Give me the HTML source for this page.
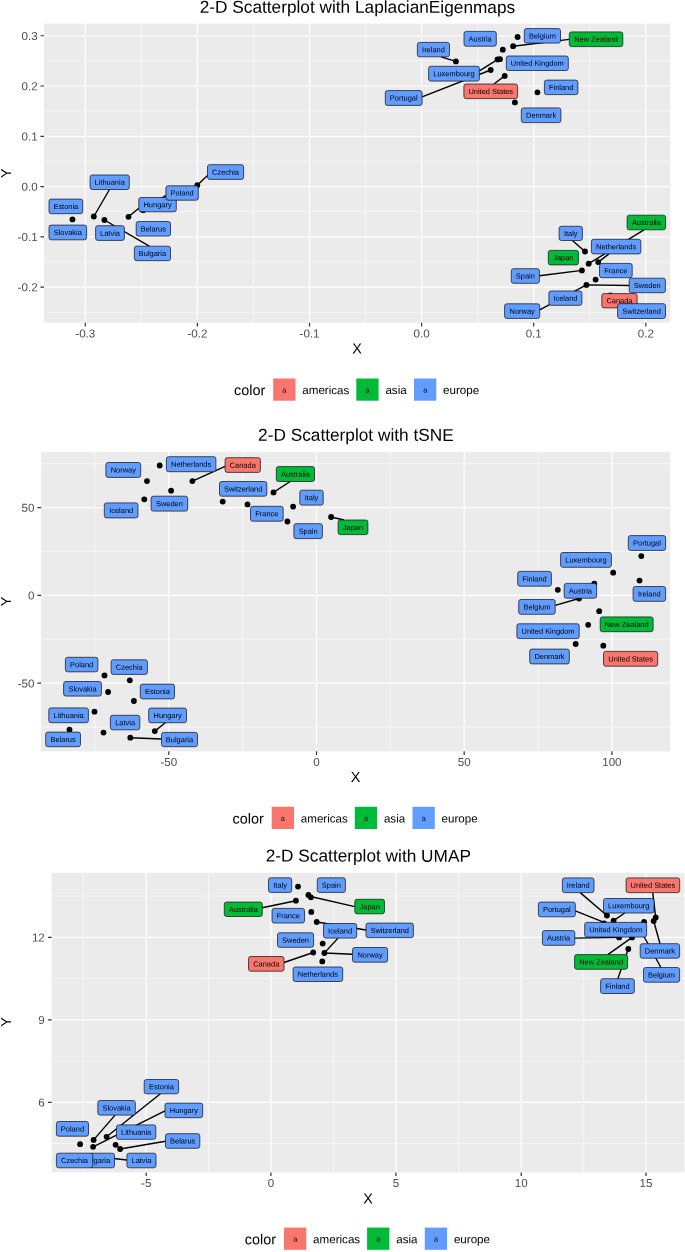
<!DOCTYPE html>
<html><head><meta charset="utf-8"><title>2-D Scatterplots</title>
<style>
html,body{margin:0;padding:0;background:#fff}
svg{display:block;font-family:"Liberation Sans",Arial,sans-serif;text-rendering:geometricPrecision}
.tk text{font-size:11.6px;fill:#4D4D4D}
.ti{font-size:17.25px;fill:#000}
.ax{font-size:14.4px;fill:#000}
.lg{font-size:11.6px;fill:#000}
.ka{font-size:7.3px;fill:#000}
.lb rect{stroke:#1a1a1a;stroke-width:0.75}
.lb text{font-size:7.45px;fill:#000;text-anchor:middle}
</style></head><body>
<svg width="685" height="1252" viewBox="0 0 685 1252">
<rect width="685" height="1252" fill="#fff"/>
<rect x="44.05" y="23.6" width="626.15" height="299.2" fill="#EBEBEB"/>
<path d="M44.05 60.9H670.2M44.05 111.15H670.2M44.05 161.4H670.2M44.05 211.7H670.2M44.05 262H670.2M44.05 312.3H670.2M141.4 23.6V322.8M253.5 23.6V322.8M365.6 23.6V322.8M477.7 23.6V322.8M589.8 23.6V322.8" stroke="#fff" stroke-width="0.6" fill="none"/>
<path d="M44.05 35.75H670.2M44.05 86H670.2M44.05 136.3H670.2M44.05 186.55H670.2M44.05 236.85H670.2M44.05 287.1H670.2M85.3 23.6V322.8M197.4 23.6V322.8M309.5 23.6V322.8M421.6 23.6V322.8M533.7 23.6V322.8M645.8 23.6V322.8" stroke="#fff" stroke-width="1.2" fill="none"/>
<path d="M40.45 35.75H44.05M40.45 86H44.05M40.45 136.3H44.05M40.45 186.55H44.05M40.45 236.85H44.05M40.45 287.1H44.05M85.3 322.8V326.4M197.4 322.8V326.4M309.5 322.8V326.4M421.6 322.8V326.4M533.7 322.8V326.4M645.8 322.8V326.4" stroke="#333" stroke-width="1.2" fill="none"/>
<g class="tk">
<text text-anchor="end" transform="translate(37.6 39.95) matrix(1 0.001 0 1 0 0)">0.3</text>
<text text-anchor="end" transform="translate(37.6 90.2) matrix(1 0.001 0 1 0 0)">0.2</text>
<text text-anchor="end" transform="translate(37.6 140.5) matrix(1 0.001 0 1 0 0)">0.1</text>
<text text-anchor="end" transform="translate(37.6 190.75) matrix(1 0.001 0 1 0 0)">0.0</text>
<text text-anchor="end" transform="translate(37.6 241.05) matrix(1 0.001 0 1 0 0)">-0.1</text>
<text text-anchor="end" transform="translate(37.6 291.3) matrix(1 0.001 0 1 0 0)">-0.2</text>
<text text-anchor="middle" transform="translate(85.3 337.6) matrix(1 0.001 0 1 0 0)">-0.3</text>
<text text-anchor="middle" transform="translate(197.4 337.6) matrix(1 0.001 0 1 0 0)">-0.2</text>
<text text-anchor="middle" transform="translate(309.5 337.6) matrix(1 0.001 0 1 0 0)">-0.1</text>
<text text-anchor="middle" transform="translate(421.6 337.6) matrix(1 0.001 0 1 0 0)">0.0</text>
<text text-anchor="middle" transform="translate(533.7 337.6) matrix(1 0.001 0 1 0 0)">0.1</text>
<text text-anchor="middle" transform="translate(645.8 337.6) matrix(1 0.001 0 1 0 0)">0.2</text>
</g>
<text class="ti" text-anchor="middle" transform="translate(357.43 12.8) matrix(1 0.001 0 1 0 0)">2-D Scatterplot with LaplacianEigenmaps</text>
<text class="ax" text-anchor="middle" transform="translate(357 353.6) matrix(1 0.001 0 1 0 0)">X</text>
<text class="ax" text-anchor="middle" transform="translate(10.9 173.2) rotate(-90) matrix(1 0.001 0 1 0 0)">Y</text>
<g fill="#000">
<circle cx="517.6" cy="37" r="2.9"/>
<circle cx="513.1" cy="46.2" r="2.9"/>
<circle cx="502.8" cy="49.7" r="2.9"/>
<circle cx="497.5" cy="59.4" r="2.9"/>
<circle cx="500" cy="59.2" r="2.9"/>
<circle cx="455.9" cy="61.4" r="2.9"/>
<circle cx="490.7" cy="70" r="2.9"/>
<circle cx="504.7" cy="75.9" r="2.9"/>
<circle cx="537.4" cy="92.3" r="2.9"/>
<circle cx="514.9" cy="102.4" r="2.9"/>
<circle cx="197.3" cy="185.2" r="2.9"/>
<circle cx="143.1" cy="210.2" r="2.9"/>
<circle cx="128.5" cy="216.8" r="2.9"/>
<circle cx="93.8" cy="216.5" r="2.9"/>
<circle cx="104.4" cy="220" r="2.9"/>
<circle cx="72.5" cy="219.4" r="2.9"/>
<circle cx="585" cy="251.5" r="2.9"/>
<circle cx="588.7" cy="263.7" r="2.9"/>
<circle cx="598.2" cy="262.1" r="2.9"/>
<circle cx="581.9" cy="270.4" r="2.9"/>
<circle cx="595.6" cy="279.6" r="2.9"/>
<circle cx="586.4" cy="284.9" r="2.9"/>
<circle cx="610.5" cy="295.3" r="2.9"/>
</g>
<path d="M441.1 56.8L455.9 61.4M479.4 70.9L497.8 59.3M422.1 96.9L490.7 70M493.9 84L504.7 75.9M569.3 39.4L513.1 46.2M109.5 189.5L93.8 216.5M138.8 208.3L128.5 216.8M149.3 246.2L104.4 220M165.9 195.4L143.1 210.9M207.5 175.5L197.3 185.2M572.4 240.5L585 251.5M644 229.8L588.7 263.7M609 253.9L598.2 262.1M539.4 275.8L581.9 270.4M629.2 285.5L586.4 284.9M539.7 309.8L586.4 284.9" stroke="#000" stroke-width="1.4" fill="none"/>
<g class="lb">
<rect x="627.1" y="215.2" width="38.5" height="14.6" rx="2.2" fill="#00BA38"/><text transform="translate(646.35 225.1) matrix(1 0.001 0 1 0 0)">Australia</text>
<rect x="464" y="31.4" width="32.3" height="14.8" rx="2.2" fill="#619CFF"/><text transform="translate(480.15 41.4) matrix(1 0.001 0 1 0 0)">Austria</text>
<rect x="136.2" y="221.5" width="34.3" height="14.6" rx="2.2" fill="#619CFF"/><text transform="translate(153.35 231.4) matrix(1 0.001 0 1 0 0)">Belarus</text>
<rect x="524.3" y="28.6" width="36.2" height="14.5" rx="2.2" fill="#619CFF"/><text transform="translate(542.4 38.45) matrix(1 0.001 0 1 0 0)">Belgium</text>
<rect x="134.4" y="246.2" width="36.1" height="14.5" rx="2.2" fill="#619CFF"/><text transform="translate(152.45 256.05) matrix(1 0.001 0 1 0 0)">Bulgaria</text>
<rect x="601.8" y="293.6" width="35.3" height="14.3" rx="2.2" fill="#F8766D"/><text transform="translate(619.45 303.35) matrix(1 0.001 0 1 0 0)">Canada</text>
<rect x="207.5" y="164.7" width="36.1" height="14.7" rx="2.2" fill="#619CFF"/><text transform="translate(225.55 174.65) matrix(1 0.001 0 1 0 0)">Czechia</text>
<rect x="521.3" y="107.9" width="39.6" height="14.7" rx="2.2" fill="#619CFF"/><text transform="translate(541.1 117.85) matrix(1 0.001 0 1 0 0)">Denmark</text>
<rect x="49" y="199.1" width="33.7" height="14.6" rx="2.2" fill="#619CFF"/><text transform="translate(65.85 209) matrix(1 0.001 0 1 0 0)">Estonia</text>
<rect x="544.4" y="80.1" width="33.5" height="14.5" rx="2.2" fill="#619CFF"/><text transform="translate(561.15 89.95) matrix(1 0.001 0 1 0 0)">Finland</text>
<rect x="599.5" y="263.4" width="32.7" height="14.3" rx="2.2" fill="#619CFF"/><text transform="translate(615.85 273.15) matrix(1 0.001 0 1 0 0)">France</text>
<rect x="138.8" y="197.5" width="37.5" height="14.3" rx="2.2" fill="#619CFF"/><text transform="translate(157.55 207.25) matrix(1 0.001 0 1 0 0)">Hungary</text>
<rect x="548.9" y="291" width="33" height="14.3" rx="2.2" fill="#619CFF"/><text transform="translate(565.4 300.75) matrix(1 0.001 0 1 0 0)">Iceland</text>
<rect x="417.4" y="42.4" width="32.1" height="14.4" rx="2.2" fill="#619CFF"/><text transform="translate(433.45 52.2) matrix(1 0.001 0 1 0 0)">Ireland</text>
<rect x="559.1" y="226.3" width="23.3" height="14.2" rx="2.2" fill="#619CFF"/><text transform="translate(570.75 236) matrix(1 0.001 0 1 0 0)">Italy</text>
<rect x="548.3" y="250.4" width="30.1" height="14.5" rx="2.2" fill="#00BA38"/><text transform="translate(563.35 260.25) matrix(1 0.001 0 1 0 0)">Japan</text>
<rect x="95.6" y="225.7" width="28.8" height="14.7" rx="2.2" fill="#619CFF"/><text transform="translate(110 235.65) matrix(1 0.001 0 1 0 0)">Latvia</text>
<rect x="90.1" y="175" width="39.2" height="14.5" rx="2.2" fill="#619CFF"/><text transform="translate(109.7 184.85) matrix(1 0.001 0 1 0 0)">Lithuania</text>
<rect x="428.6" y="66.3" width="50.8" height="14.8" rx="2.2" fill="#619CFF"/><text transform="translate(454 76.3) matrix(1 0.001 0 1 0 0)">Luxembourg</text>
<rect x="591.4" y="239.3" width="49.4" height="14.6" rx="2.2" fill="#619CFF"/><text transform="translate(616.1 249.2) matrix(1 0.001 0 1 0 0)">Netherlands</text>
<rect x="569.3" y="31.9" width="53.5" height="14.7" rx="2.2" fill="#00BA38"/><text transform="translate(596.05 41.85) matrix(1 0.001 0 1 0 0)">New Zealand</text>
<rect x="504.6" y="303.8" width="35.1" height="14.6" rx="2.2" fill="#619CFF"/><text transform="translate(522.15 313.7) matrix(1 0.001 0 1 0 0)">Norway</text>
<rect x="165.9" y="185.8" width="32.4" height="14.4" rx="2.2" fill="#619CFF"/><text transform="translate(182.1 195.6) matrix(1 0.001 0 1 0 0)">Poland</text>
<rect x="385.3" y="90.6" width="36.8" height="14.8" rx="2.2" fill="#619CFF"/><text transform="translate(403.7 100.6) matrix(1 0.001 0 1 0 0)">Portugal</text>
<rect x="49" y="225.1" width="37.6" height="14.7" rx="2.2" fill="#619CFF"/><text transform="translate(67.8 235.05) matrix(1 0.001 0 1 0 0)">Slovakia</text>
<rect x="511.3" y="268.7" width="28.1" height="14.6" rx="2.2" fill="#619CFF"/><text transform="translate(525.35 278.6) matrix(1 0.001 0 1 0 0)">Spain</text>
<rect x="629.2" y="278.2" width="36.2" height="14.5" rx="2.2" fill="#619CFF"/><text transform="translate(647.3 288.05) matrix(1 0.001 0 1 0 0)">Sweden</text>
<rect x="617.6" y="303.7" width="47.9" height="14.8" rx="2.2" fill="#619CFF"/><text transform="translate(641.55 313.7) matrix(1 0.001 0 1 0 0)">Switzerland</text>
<rect x="506.3" y="56" width="62" height="14.5" rx="2.2" fill="#619CFF"/><text transform="translate(537.3 65.85) matrix(1 0.001 0 1 0 0)">United Kingdom</text>
<rect x="463.9" y="84" width="53.7" height="14.6" rx="2.2" fill="#F8766D"/><text transform="translate(490.75 93.9) matrix(1 0.001 0 1 0 0)">United States</text>
</g>
<text class="ax" transform="translate(234 395.1) matrix(1 0.001 0 1 0 0)">color</text>
<rect x="273.2" y="378.5" width="22.3" height="22.2" fill="#F8766D"/>
<text class="ka" text-anchor="middle" transform="translate(284.4 392.5) matrix(1 0.001 0 1 0 0)">a</text>
<text class="lg" transform="translate(302.3 394.1) matrix(1 0.001 0 1 0 0)">americas</text>
<rect x="356.3" y="378.5" width="22.3" height="22.2" fill="#00BA38"/>
<text class="ka" text-anchor="middle" transform="translate(367.5 392.5) matrix(1 0.001 0 1 0 0)">a</text>
<text class="lg" transform="translate(385.4 394.1) matrix(1 0.001 0 1 0 0)">asia</text>
<rect x="414" y="378.5" width="22.3" height="22.2" fill="#619CFF"/>
<text class="ka" text-anchor="middle" transform="translate(425.2 392.5) matrix(1 0.001 0 1 0 0)">a</text>
<text class="lg" transform="translate(443.1 394.1) matrix(1 0.001 0 1 0 0)">europe</text>
<rect x="41" y="452.1" width="629.2" height="299.2" fill="#EBEBEB"/>
<path d="M41 463.7H670.2M41 551.5H670.2M41 639.3H670.2M41 727.1H670.2M94.9 452.1V751.3M242.6 452.1V751.3M390.3 452.1V751.3M538 452.1V751.3" stroke="#fff" stroke-width="0.6" fill="none"/>
<path d="M41 507.6H670.2M41 595.4H670.2M41 683.2H670.2M168.8 452.1V751.3M316.5 452.1V751.3M464.2 452.1V751.3M611.9 452.1V751.3" stroke="#fff" stroke-width="1.2" fill="none"/>
<path d="M37.4 507.6H41M37.4 595.4H41M37.4 683.2H41M168.8 751.3V754.9M316.5 751.3V754.9M464.2 751.3V754.9M611.9 751.3V754.9" stroke="#333" stroke-width="1.2" fill="none"/>
<g class="tk">
<text text-anchor="end" transform="translate(34.4 511.8) matrix(1 0.001 0 1 0 0)">50</text>
<text text-anchor="end" transform="translate(34.4 599.6) matrix(1 0.001 0 1 0 0)">0</text>
<text text-anchor="end" transform="translate(34.4 687.4) matrix(1 0.001 0 1 0 0)">-50</text>
<text text-anchor="middle" transform="translate(168.8 766) matrix(1 0.001 0 1 0 0)">-50</text>
<text text-anchor="middle" transform="translate(316.5 766) matrix(1 0.001 0 1 0 0)">0</text>
<text text-anchor="middle" transform="translate(464.2 766) matrix(1 0.001 0 1 0 0)">50</text>
<text text-anchor="middle" transform="translate(611.9 766) matrix(1 0.001 0 1 0 0)">100</text>
</g>
<text class="ti" text-anchor="middle" transform="translate(355.9 440.8) matrix(1 0.001 0 1 0 0)">2-D Scatterplot with tSNE</text>
<text class="ax" text-anchor="middle" transform="translate(355.6 781.9) matrix(1 0.001 0 1 0 0)">X</text>
<text class="ax" text-anchor="middle" transform="translate(10.9 601.5) rotate(-90) matrix(1 0.001 0 1 0 0)">Y</text>
<g fill="#000">
<circle cx="159.7" cy="465.5" r="2.9"/>
<circle cx="147" cy="481.1" r="2.9"/>
<circle cx="192.4" cy="481.1" r="2.9"/>
<circle cx="171.1" cy="490.7" r="2.9"/>
<circle cx="144.3" cy="499.3" r="2.9"/>
<circle cx="222.7" cy="501.6" r="2.9"/>
<circle cx="247.5" cy="504.4" r="2.9"/>
<circle cx="273.5" cy="492.4" r="2.9"/>
<circle cx="293.1" cy="506.6" r="2.9"/>
<circle cx="287.4" cy="521.5" r="2.9"/>
<circle cx="331.1" cy="517" r="2.9"/>
<circle cx="641.3" cy="556.1" r="2.9"/>
<circle cx="613.2" cy="572.7" r="2.9"/>
<circle cx="639.5" cy="580.6" r="2.9"/>
<circle cx="594.3" cy="583.7" r="2.9"/>
<circle cx="557.8" cy="589.8" r="2.9"/>
<circle cx="579" cy="598.5" r="2.9"/>
<circle cx="599.2" cy="611.2" r="2.9"/>
<circle cx="588.2" cy="624.8" r="2.9"/>
<circle cx="575.7" cy="644" r="2.9"/>
<circle cx="603.3" cy="645.7" r="2.9"/>
<circle cx="104.5" cy="675.4" r="2.9"/>
<circle cx="129.8" cy="680.3" r="2.9"/>
<circle cx="108.1" cy="692" r="2.9"/>
<circle cx="133.9" cy="701" r="2.9"/>
<circle cx="94.5" cy="711.7" r="2.9"/>
<circle cx="69.5" cy="729.6" r="2.9"/>
<circle cx="103.5" cy="732.6" r="2.9"/>
<circle cx="154.8" cy="731.1" r="2.9"/>
<circle cx="130.3" cy="737.7" r="2.9"/>
</g>
<path d="M225.1 466.3L192.4 481.1M290.2 481.5L273.5 492.4M344 520L331.1 517M555.2 605.4L579 598.5M165.3 722.7L154.8 731.1M161.5 739L130.3 737.7" stroke="#000" stroke-width="1.4" fill="none"/>
<g class="lb">
<rect x="276.3" y="466.6" width="38.2" height="14.9" rx="2.2" fill="#00BA38"/><text transform="translate(295.4 476.65) matrix(1 0.001 0 1 0 0)">Australia</text>
<rect x="564.2" y="583.4" width="32.4" height="14.8" rx="2.2" fill="#619CFF"/><text transform="translate(580.4 593.4) matrix(1 0.001 0 1 0 0)">Austria</text>
<rect x="45.7" y="732.1" width="34.8" height="14.6" rx="2.2" fill="#619CFF"/><text transform="translate(63.1 742) matrix(1 0.001 0 1 0 0)">Belarus</text>
<rect x="518.7" y="599.5" width="36.5" height="14.8" rx="2.2" fill="#619CFF"/><text transform="translate(536.95 609.5) matrix(1 0.001 0 1 0 0)">Belgium</text>
<rect x="161.5" y="732.4" width="36" height="14.3" rx="2.2" fill="#619CFF"/><text transform="translate(179.5 742.15) matrix(1 0.001 0 1 0 0)">Bulgaria</text>
<rect x="225.1" y="457.7" width="35.3" height="14.7" rx="2.2" fill="#F8766D"/><text transform="translate(242.75 467.65) matrix(1 0.001 0 1 0 0)">Canada</text>
<rect x="111.1" y="659.8" width="36.3" height="14.6" rx="2.2" fill="#619CFF"/><text transform="translate(129.25 669.7) matrix(1 0.001 0 1 0 0)">Czechia</text>
<rect x="529.7" y="649.1" width="39.6" height="14.8" rx="2.2" fill="#619CFF"/><text transform="translate(549.5 659.1) matrix(1 0.001 0 1 0 0)">Denmark</text>
<rect x="140.3" y="684.1" width="34.2" height="14.8" rx="2.2" fill="#619CFF"/><text transform="translate(157.4 694.1) matrix(1 0.001 0 1 0 0)">Estonia</text>
<rect x="517.7" y="571.4" width="33.7" height="14.8" rx="2.2" fill="#619CFF"/><text transform="translate(534.55 581.4) matrix(1 0.001 0 1 0 0)">Finland</text>
<rect x="250.5" y="506.3" width="32.7" height="14.9" rx="2.2" fill="#619CFF"/><text transform="translate(266.85 516.35) matrix(1 0.001 0 1 0 0)">France</text>
<rect x="148.7" y="708.1" width="37.8" height="14.6" rx="2.2" fill="#619CFF"/><text transform="translate(167.6 718) matrix(1 0.001 0 1 0 0)">Hungary</text>
<rect x="104.3" y="502.9" width="33.7" height="15" rx="2.2" fill="#619CFF"/><text transform="translate(121.15 513) matrix(1 0.001 0 1 0 0)">Iceland</text>
<rect x="633.1" y="586.5" width="32.5" height="14.8" rx="2.2" fill="#619CFF"/><text transform="translate(649.35 596.5) matrix(1 0.001 0 1 0 0)">Ireland</text>
<rect x="299.8" y="490.2" width="23.4" height="14.9" rx="2.2" fill="#619CFF"/><text transform="translate(311.5 500.25) matrix(1 0.001 0 1 0 0)">Italy</text>
<rect x="338.1" y="520" width="29.8" height="14.6" rx="2.2" fill="#00BA38"/><text transform="translate(353 529.9) matrix(1 0.001 0 1 0 0)">Japan</text>
<rect x="110.4" y="715.3" width="29.4" height="14.5" rx="2.2" fill="#619CFF"/><text transform="translate(125.1 725.15) matrix(1 0.001 0 1 0 0)">Latvia</text>
<rect x="48.8" y="707.9" width="39.6" height="14.8" rx="2.2" fill="#619CFF"/><text transform="translate(68.6 717.9) matrix(1 0.001 0 1 0 0)">Lithuania</text>
<rect x="560.6" y="552.5" width="50.8" height="14.8" rx="2.2" fill="#619CFF"/><text transform="translate(586 562.5) matrix(1 0.001 0 1 0 0)">Luxembourg</text>
<rect x="166.4" y="456.7" width="49.5" height="15" rx="2.2" fill="#619CFF"/><text transform="translate(191.15 466.8) matrix(1 0.001 0 1 0 0)">Netherlands</text>
<rect x="600.2" y="616.9" width="52.9" height="14.8" rx="2.2" fill="#00BA38"/><text transform="translate(626.65 626.9) matrix(1 0.001 0 1 0 0)">New Zealand</text>
<rect x="105.9" y="462.5" width="34.8" height="14.9" rx="2.2" fill="#619CFF"/><text transform="translate(123.3 472.55) matrix(1 0.001 0 1 0 0)">Norway</text>
<rect x="65.4" y="657.3" width="32.5" height="14.5" rx="2.2" fill="#619CFF"/><text transform="translate(81.65 667.15) matrix(1 0.001 0 1 0 0)">Poland</text>
<rect x="628.3" y="535.6" width="37.3" height="14.8" rx="2.2" fill="#619CFF"/><text transform="translate(646.95 545.6) matrix(1 0.001 0 1 0 0)">Portugal</text>
<rect x="63.6" y="681.5" width="37.8" height="14.6" rx="2.2" fill="#619CFF"/><text transform="translate(82.5 691.4) matrix(1 0.001 0 1 0 0)">Slovakia</text>
<rect x="293.9" y="523.7" width="28.5" height="14.9" rx="2.2" fill="#619CFF"/><text transform="translate(308.15 533.75) matrix(1 0.001 0 1 0 0)">Spain</text>
<rect x="151.1" y="496.2" width="36.6" height="14.9" rx="2.2" fill="#619CFF"/><text transform="translate(169.4 506.25) matrix(1 0.001 0 1 0 0)">Sweden</text>
<rect x="219.5" y="481.5" width="47.3" height="14.7" rx="2.2" fill="#619CFF"/><text transform="translate(243.15 491.45) matrix(1 0.001 0 1 0 0)">Switzerland</text>
<rect x="516.9" y="623.8" width="62.3" height="14.8" rx="2.2" fill="#619CFF"/><text transform="translate(548.05 633.8) matrix(1 0.001 0 1 0 0)">United Kingdom</text>
<rect x="603.5" y="651.4" width="54.2" height="14.8" rx="2.2" fill="#F8766D"/><text transform="translate(630.6 661.4) matrix(1 0.001 0 1 0 0)">United States</text>
</g>
<text class="ax" transform="translate(232.5 823.4) matrix(1 0.001 0 1 0 0)">color</text>
<rect x="271.7" y="806.8" width="22.3" height="22.2" fill="#F8766D"/>
<text class="ka" text-anchor="middle" transform="translate(282.9 820.8) matrix(1 0.001 0 1 0 0)">a</text>
<text class="lg" transform="translate(300.8 822.4) matrix(1 0.001 0 1 0 0)">americas</text>
<rect x="354.8" y="806.8" width="22.3" height="22.2" fill="#00BA38"/>
<text class="ka" text-anchor="middle" transform="translate(366 820.8) matrix(1 0.001 0 1 0 0)">a</text>
<text class="lg" transform="translate(383.9 822.4) matrix(1 0.001 0 1 0 0)">asia</text>
<rect x="412.5" y="806.8" width="22.3" height="22.2" fill="#619CFF"/>
<text class="ka" text-anchor="middle" transform="translate(423.7 820.8) matrix(1 0.001 0 1 0 0)">a</text>
<text class="lg" transform="translate(441.6 822.4) matrix(1 0.001 0 1 0 0)">europe</text>
<rect x="51.7" y="872.9" width="632.7" height="299.5" fill="#EBEBEB"/>
<path d="M51.7 896.05H684.4M51.7 978.55H684.4M51.7 1061.05H684.4M51.7 1143.55H684.4M83.3 872.9V1172.4M208.4 872.9V1172.4M333.5 872.9V1172.4M458.6 872.9V1172.4M583.7 872.9V1172.4" stroke="#fff" stroke-width="0.6" fill="none"/>
<path d="M51.7 937.3H684.4M51.7 1019.8H684.4M51.7 1102.3H684.4M146.2 872.9V1172.4M270.9 872.9V1172.4M395.9 872.9V1172.4M521.2 872.9V1172.4M646 872.9V1172.4" stroke="#fff" stroke-width="1.2" fill="none"/>
<path d="M48.1 937.3H51.7M48.1 1019.8H51.7M48.1 1102.3H51.7M146.2 1172.4V1176M270.9 1172.4V1176M395.9 1172.4V1176M521.2 1172.4V1176M646 1172.4V1176" stroke="#333" stroke-width="1.2" fill="none"/>
<g class="tk">
<text text-anchor="end" transform="translate(44.8 941.5) matrix(1 0.001 0 1 0 0)">12</text>
<text text-anchor="end" transform="translate(44.8 1024) matrix(1 0.001 0 1 0 0)">9</text>
<text text-anchor="end" transform="translate(44.8 1106.5) matrix(1 0.001 0 1 0 0)">6</text>
<text text-anchor="middle" transform="translate(146.2 1187.1) matrix(1 0.001 0 1 0 0)">-5</text>
<text text-anchor="middle" transform="translate(270.9 1187.1) matrix(1 0.001 0 1 0 0)">0</text>
<text text-anchor="middle" transform="translate(395.9 1187.1) matrix(1 0.001 0 1 0 0)">5</text>
<text text-anchor="middle" transform="translate(521.2 1187.1) matrix(1 0.001 0 1 0 0)">10</text>
<text text-anchor="middle" transform="translate(646 1187.1) matrix(1 0.001 0 1 0 0)">15</text>
</g>
<text class="ti" text-anchor="middle" transform="translate(368.35 861.6) matrix(1 0.001 0 1 0 0)">2-D Scatterplot with UMAP</text>
<text class="ax" text-anchor="middle" transform="translate(368 1203.5) matrix(1 0.001 0 1 0 0)">X</text>
<text class="ax" text-anchor="middle" transform="translate(10.9 1022) rotate(-90) matrix(1 0.001 0 1 0 0)">Y</text>
<g fill="#000">
<circle cx="298" cy="886.6" r="2.9"/>
<circle cx="308.4" cy="894.9" r="2.9"/>
<circle cx="310.9" cy="897.3" r="2.9"/>
<circle cx="295.9" cy="900.7" r="2.9"/>
<circle cx="311.3" cy="911.9" r="2.9"/>
<circle cx="316.7" cy="922" r="2.9"/>
<circle cx="322.7" cy="943.6" r="2.9"/>
<circle cx="313.2" cy="952.5" r="2.9"/>
<circle cx="324.4" cy="953" r="2.9"/>
<circle cx="322.3" cy="961.4" r="2.9"/>
<circle cx="606.9" cy="915.5" r="2.9"/>
<circle cx="613.6" cy="920.7" r="2.9"/>
<circle cx="604.1" cy="923.3" r="2.9"/>
<circle cx="644.1" cy="922" r="2.9"/>
<circle cx="655.7" cy="917.4" r="2.9"/>
<circle cx="653.7" cy="921" r="2.9"/>
<circle cx="619.1" cy="937.4" r="2.9"/>
<circle cx="632.1" cy="937.4" r="2.9"/>
<circle cx="628.3" cy="949" r="2.9"/>
<circle cx="80.1" cy="1144.2" r="2.9"/>
<circle cx="93.6" cy="1139.9" r="2.9"/>
<circle cx="93.1" cy="1146.8" r="2.9"/>
<circle cx="106.6" cy="1136.8" r="2.9"/>
<circle cx="115.6" cy="1144.8" r="2.9"/>
<circle cx="120.1" cy="1149" r="2.9"/>
</g>
<path d="M262.3 907.8L295.9 900.7M354.8 906.6L310.5 896.5M366 930L316.7 922M338 938.1L324.4 953M352.5 954.2L324.4 953M284 962.5L313.2 952.5M580.2 892.6L606.9 915.5M652.7 892.6L655.7 917.4M624.8 913L613.6 920.7M575.3 910.9L604.1 922.4M574.8 938.1L619.1 937.4M607.8 954.6L632.1 937.4M617.8 978.7L628.3 949M660 943.7L653.7 921M660.9 967.5L641 931M115.1 1115.1L93.6 1139.9M160.4 1093.8L106.6 1136.8M165 1110.9L93.1 1146.8M165.5 1141.3L120.1 1149M126.9 1160L105 1157.5" stroke="#000" stroke-width="1.4" fill="none"/>
<g class="lb">
<rect x="224.3" y="902.1" width="38" height="14.4" rx="2.2" fill="#00BA38"/><text transform="translate(243.3 911.9) matrix(1 0.001 0 1 0 0)">Australia</text>
<rect x="542.4" y="930.6" width="32.4" height="14.7" rx="2.2" fill="#619CFF"/><text transform="translate(558.6 940.55) matrix(1 0.001 0 1 0 0)">Austria</text>
<rect x="165.5" y="1133.7" width="34.3" height="14.6" rx="2.2" fill="#619CFF"/><text transform="translate(182.65 1143.6) matrix(1 0.001 0 1 0 0)">Belarus</text>
<rect x="643.5" y="967.5" width="36.1" height="14.7" rx="2.2" fill="#619CFF"/><text transform="translate(661.55 977.45) matrix(1 0.001 0 1 0 0)">Belgium</text>
<rect x="89" y="1153.2" width="25.5" height="14.6" rx="2.2" fill="#619CFF"/><text transform="translate(96.5 1163.1) matrix(1 0.001 0 1 0 0)">Bulgaria</text>
<rect x="248.5" y="956.5" width="35.5" height="14.7" rx="2.2" fill="#F8766D"/><text transform="translate(266.25 966.45) matrix(1 0.001 0 1 0 0)">Canada</text>
<rect x="56.4" y="1153.2" width="36.3" height="14.6" rx="2.2" fill="#619CFF"/><text transform="translate(74.55 1163.1) matrix(1 0.001 0 1 0 0)">Czechia</text>
<rect x="640.2" y="943.7" width="39.4" height="14.5" rx="2.2" fill="#619CFF"/><text transform="translate(659.9 953.55) matrix(1 0.001 0 1 0 0)">Denmark</text>
<rect x="144.2" y="1079.5" width="34.4" height="14.3" rx="2.2" fill="#619CFF"/><text transform="translate(161.4 1089.25) matrix(1 0.001 0 1 0 0)">Estonia</text>
<rect x="600.6" y="978.7" width="33.7" height="14.8" rx="2.2" fill="#619CFF"/><text transform="translate(617.45 988.7) matrix(1 0.001 0 1 0 0)">Finland</text>
<rect x="272" y="908.4" width="32.5" height="14.6" rx="2.2" fill="#619CFF"/><text transform="translate(288.25 918.3) matrix(1 0.001 0 1 0 0)">France</text>
<rect x="165" y="1103.1" width="37.7" height="14.6" rx="2.2" fill="#619CFF"/><text transform="translate(183.85 1113) matrix(1 0.001 0 1 0 0)">Hungary</text>
<rect x="323.5" y="923.5" width="33.2" height="14.6" rx="2.2" fill="#619CFF"/><text transform="translate(340.1 933.4) matrix(1 0.001 0 1 0 0)">Iceland</text>
<rect x="562.4" y="877.9" width="31.6" height="14.7" rx="2.2" fill="#619CFF"/><text transform="translate(578.2 887.85) matrix(1 0.001 0 1 0 0)">Ireland</text>
<rect x="268.5" y="877.8" width="23.2" height="14.6" rx="2.2" fill="#619CFF"/><text transform="translate(280.1 887.7) matrix(1 0.001 0 1 0 0)">Italy</text>
<rect x="354.8" y="899.3" width="29.7" height="14.5" rx="2.2" fill="#00BA38"/><text transform="translate(369.65 909.15) matrix(1 0.001 0 1 0 0)">Japan</text>
<rect x="126.9" y="1153.2" width="29.1" height="14.6" rx="2.2" fill="#619CFF"/><text transform="translate(141.45 1163.1) matrix(1 0.001 0 1 0 0)">Latvia</text>
<rect x="116.5" y="1124.9" width="39.3" height="14.4" rx="2.2" fill="#619CFF"/><text transform="translate(136.15 1134.7) matrix(1 0.001 0 1 0 0)">Lithuania</text>
<rect x="603.5" y="898.5" width="50.5" height="14.5" rx="2.2" fill="#619CFF"/><text transform="translate(628.75 908.35) matrix(1 0.001 0 1 0 0)">Luxembourg</text>
<rect x="293.1" y="967" width="49.6" height="14.5" rx="2.2" fill="#619CFF"/><text transform="translate(317.9 976.85) matrix(1 0.001 0 1 0 0)">Netherlands</text>
<rect x="574.6" y="954.6" width="53" height="14.7" rx="2.2" fill="#00BA38"/><text transform="translate(601.1 964.55) matrix(1 0.001 0 1 0 0)">New Zealand</text>
<rect x="352.5" y="947.5" width="35.1" height="14.7" rx="2.2" fill="#619CFF"/><text transform="translate(370.05 957.45) matrix(1 0.001 0 1 0 0)">Norway</text>
<rect x="56.4" y="1121.5" width="32.1" height="14.7" rx="2.2" fill="#619CFF"/><text transform="translate(72.45 1131.45) matrix(1 0.001 0 1 0 0)">Poland</text>
<rect x="538.4" y="902.1" width="36.9" height="14.7" rx="2.2" fill="#619CFF"/><text transform="translate(556.85 912.05) matrix(1 0.001 0 1 0 0)">Portugal</text>
<rect x="97.8" y="1100.5" width="37.5" height="14.6" rx="2.2" fill="#619CFF"/><text transform="translate(116.55 1110.4) matrix(1 0.001 0 1 0 0)">Slovakia</text>
<rect x="317.3" y="877.8" width="28.1" height="14.6" rx="2.2" fill="#619CFF"/><text transform="translate(331.35 887.7) matrix(1 0.001 0 1 0 0)">Spain</text>
<rect x="277.5" y="932.8" width="36.1" height="14.5" rx="2.2" fill="#619CFF"/><text transform="translate(295.55 942.65) matrix(1 0.001 0 1 0 0)">Sweden</text>
<rect x="366" y="923.1" width="47.4" height="14.5" rx="2.2" fill="#619CFF"/><text transform="translate(389.7 932.95) matrix(1 0.001 0 1 0 0)">Switzerland</text>
<rect x="584.7" y="922.4" width="61.9" height="14.7" rx="2.2" fill="#619CFF"/><text transform="translate(615.65 932.35) matrix(1 0.001 0 1 0 0)">United Kingdom</text>
<rect x="626.1" y="877.9" width="53.6" height="14.7" rx="2.2" fill="#F8766D"/><text transform="translate(652.9 887.85) matrix(1 0.001 0 1 0 0)">United States</text>
</g>
<text class="ax" transform="translate(244.8 1244.2) matrix(1 0.001 0 1 0 0)">color</text>
<rect x="284" y="1227.6" width="22.3" height="22.2" fill="#F8766D"/>
<text class="ka" text-anchor="middle" transform="translate(295.2 1241.6) matrix(1 0.001 0 1 0 0)">a</text>
<text class="lg" transform="translate(313.1 1243.2) matrix(1 0.001 0 1 0 0)">americas</text>
<rect x="367.1" y="1227.6" width="22.3" height="22.2" fill="#00BA38"/>
<text class="ka" text-anchor="middle" transform="translate(378.3 1241.6) matrix(1 0.001 0 1 0 0)">a</text>
<text class="lg" transform="translate(396.2 1243.2) matrix(1 0.001 0 1 0 0)">asia</text>
<rect x="424.8" y="1227.6" width="22.3" height="22.2" fill="#619CFF"/>
<text class="ka" text-anchor="middle" transform="translate(436 1241.6) matrix(1 0.001 0 1 0 0)">a</text>
<text class="lg" transform="translate(453.9 1243.2) matrix(1 0.001 0 1 0 0)">europe</text>
</svg>
</body></html>
